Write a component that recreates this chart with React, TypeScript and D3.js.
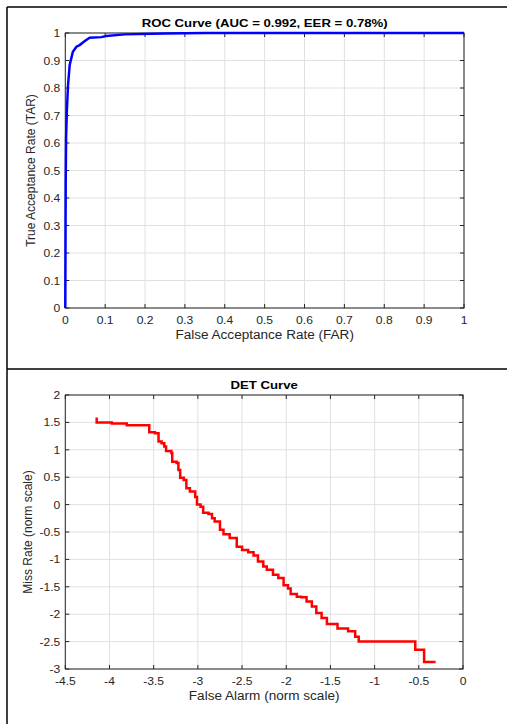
import React from 'react';
import * as d3 from 'd3';

// ROC curve operating points
const rocFar = [0, 0.001, 0.002, 0.004, 0.0068, 0.011, 0.019, 0.028, 0.036, 0.049, 0.061, 0.09, 0.103, 0.149, 0.25, 0.35, 0.5, 1];
const rocTar = [0, 0.45, 0.62, 0.72, 0.81, 0.884, 0.932, 0.95, 0.956, 0.971, 0.983, 0.985, 0.989, 0.995, 0.998, 1, 1, 1];

// DET curve (norm scale), drawn as a staircase
const detFar = [-4.145, -4.145, -3.975, -3.805, -3.55, -3.485, -3.445, -3.41, -3.38, -3.36, -3.3, -3.29, -3.24, -3.22, -3.2, -3.16, -3.13, -3.09, -3.03, -3.01, -2.97, -2.94, -2.88, -2.84, -2.81, -2.75, -2.71, -2.64, -2.56, -2.5, -2.43, -2.37, -2.32, -2.26, -2.22, -2.15, -2.09, -2.03, -1.98, -1.95, -1.88, -1.83, -1.77, -1.71, -1.66, -1.6, -1.54, -1.42, -1.3, -1.22, -1.18, -0.54, -0.44, -0.31];
const detMiss = [1.59, 1.5, 1.48, 1.45, 1.32, 1.3, 1.15, 1.12, 1.06, 0.98, 0.94, 0.78, 0.76, 0.63, 0.49, 0.45, 0.3, 0.24, 0.14, 0.0, -0.04, -0.15, -0.17, -0.25, -0.31, -0.46, -0.54, -0.61, -0.77, -0.83, -0.87, -0.93, -1.04, -1.13, -1.19, -1.28, -1.34, -1.47, -1.53, -1.63, -1.68, -1.69, -1.77, -1.86, -1.98, -2.07, -2.18, -2.26, -2.31, -2.41, -2.5, -2.65, -2.87, -2.87];

const rocXTicks = [0, 0.1, 0.2, 0.3, 0.4, 0.5, 0.6, 0.7, 0.8, 0.9, 1];
const rocYTicks = [0, 0.1, 0.2, 0.3, 0.4, 0.5, 0.6, 0.7, 0.8, 0.9, 1];
const detXTicks = [-4.5, -4, -3.5, -3, -2.5, -2, -1.5, -1, -0.5, 0];
const detYTicks = [-3, -2.5, -2, -1.5, -1, -0.5, 0, 0.5, 1, 1.5, 2];

const FONT = '"Liberation Sans", Arial, Helvetica, sans-serif';
const AX = '#262626';
const GRID = '#e0e0e0';

type PanelProps = {
  id: string;
  left: number; right: number; top: number; bottom: number;
  xDomain: [number, number]; yDomain: [number, number];
  xTicks: number[]; yTicks: number[];
  xs: number[]; ys: number[];
  color: string; step?: boolean;
  title: string; xLabel: string; yLabel: string;
  yLabelX: number;
};

// horizontally stretched text, like the source raster
function SText(props: { x: number; y: number; sx: number; anchor: string; size: number; bold?: boolean; fill: string; children: React.ReactNode }) {
  return (
    <text
      transform={`translate(${props.x},${props.y}) scale(${props.sx},1)`}
      textAnchor={props.anchor}
      fontSize={props.size}
      fontWeight={props.bold ? 'bold' : 'normal'}
      fill={props.fill}
      fontFamily={FONT}
    >{props.children}</text>
  );
}

function Panel(p: PanelProps) {
  const x = d3.scaleLinear().domain(p.xDomain).range([p.left, p.right]);
  const y = d3.scaleLinear().domain(p.yDomain).range([p.bottom, p.top]);
  const pts = p.xs.map((v, i) => [v, p.ys[i]] as [number, number]);
  const line = d3.line<[number, number]>()
    .x(d => x(d[0]))
    .y(d => y(d[1]))
    .curve(p.step ? d3.curveStepAfter : d3.curveLinear);
  const fmt = (v: number) => String(v);
  const tl = 4;
  return (
    <g>
      <defs>
        <clipPath id={p.id}>
          <rect x={p.left - 2} y={p.top - 2} width={p.right - p.left + 4} height={p.bottom - p.top + 4} />
        </clipPath>
      </defs>
      <rect x={p.left} y={p.top} width={p.right - p.left} height={p.bottom - p.top} fill="#fff" />
      {p.xTicks.map(t => (
        <line key={'gx' + t} x1={x(t)} x2={x(t)} y1={p.top} y2={p.bottom} stroke={GRID} strokeWidth={1} />
      ))}
      {p.yTicks.map(t => (
        <line key={'gy' + t} x1={p.left} x2={p.right} y1={y(t)} y2={y(t)} stroke={GRID} strokeWidth={1} />
      ))}
      {p.xTicks.map(t => (
        <g key={'tx' + t}>
          <line x1={x(t)} x2={x(t)} y1={p.bottom} y2={p.bottom - tl} stroke={AX} />
          <line x1={x(t)} x2={x(t)} y1={p.top} y2={p.top + tl} stroke={AX} />
          <SText x={x(t)} y={p.bottom + 16} sx={1.1} anchor="middle" size={11} fill={AX}>{fmt(t)}</SText>
        </g>
      ))}
      {p.yTicks.map(t => (
        <g key={'ty' + t}>
          <line x1={p.left} x2={p.left + tl} y1={y(t)} y2={y(t)} stroke={AX} />
          <line x1={p.right} x2={p.right - tl} y1={y(t)} y2={y(t)} stroke={AX} />
          <SText x={p.left - 5} y={y(t) + 4} sx={1.1} anchor="end" size={11} fill={AX}>{fmt(t)}</SText>
        </g>
      ))}
      <rect x={p.left} y={p.top} width={p.right - p.left} height={p.bottom - p.top} fill="none" stroke={AX} strokeWidth={1} />
      <path d={line(pts) || ''} fill="none" stroke={p.color} strokeWidth={2.5} clipPath={`url(#${p.id})`} />
      <SText x={(p.left + p.right) / 2} y={p.top - 6} sx={1.2} anchor="middle" size={11} bold fill="#000">{p.title}</SText>
      <SText x={(p.left + p.right) / 2} y={p.bottom + 31} sx={1.13} anchor="middle" size={12} fill={AX}>{p.xLabel}</SText>
      <text transform={`translate(${p.yLabelX},${(p.top + p.bottom) / 2}) rotate(-90)`} textAnchor="middle" fontSize={12} fill={AX} fontFamily={FONT}>{p.yLabel}</text>
    </g>
  );
}

export default function App() {
  return (
    <svg width={507} height={724} style={{ position: 'absolute', left: 0, top: 0, background: '#fff' }}>
      <rect x={0} y={0} width={507} height={724} fill="#fff" />
      <line x1={7} x2={507} y1={7} y2={7} stroke="#000" strokeWidth={1.5} />
      <line x1={7} x2={7} y1={7} y2={724} stroke="#000" strokeWidth={1.5} />
      <line x1={7} x2={507} y1={369} y2={369} stroke="#000" strokeWidth={1.5} />
      <Panel
        id="roc" left={65.3} right={464} top={33} bottom={308}
        xDomain={[0, 1]} yDomain={[0, 1]}
        xTicks={rocXTicks} yTicks={rocYTicks}
        xs={rocFar} ys={rocTar} color="#0000ff"
        title="ROC Curve (AUC = 0.992, EER = 0.78%)"
        xLabel="False Acceptance Rate (FAR)" yLabel="True Acceptance Rate (TAR)"
        yLabelX={35}
      />
      <Panel
        id="det" left={65.3} right={463} top={395} bottom={669}
        xDomain={[-4.5, 0]} yDomain={[-3, 2]}
        xTicks={detXTicks} yTicks={detYTicks}
        xs={detFar} ys={detMiss} color="#ff0000" step
        title="DET Curve"
        xLabel="False Alarm (norm scale)" yLabel="Miss Rate (norm scale)"
        yLabelX={32}
      />
    </svg>
  );
}
